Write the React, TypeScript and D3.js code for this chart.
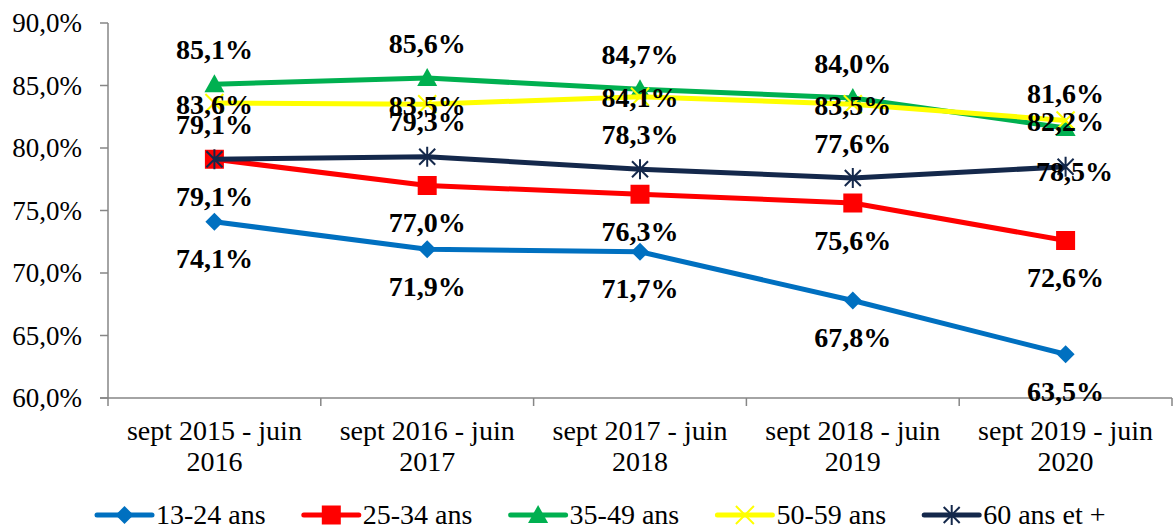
import React from "react";
import * as d3 from "d3";

const categories = [
  ["sept 2015 - juin", "2016"],
  ["sept 2016 - juin", "2017"],
  ["sept 2017 - juin", "2018"],
  ["sept 2018 - juin", "2019"],
  ["sept 2019 - juin", "2020"],
];
const seriesNames = ["13-24 ans", "25-34 ans", "35-49 ans", "50-59 ans", "60 ans et +"];
const v1324 = [74.1, 71.9, 71.7, 67.8, 63.5];
const v2534 = [79.1, 77.0, 76.3, 75.6, 72.6];
const v3549 = [85.1, 85.6, 84.7, 84.0, 81.6];
const v5059 = [83.6, 83.5, 84.1, 83.5, 82.2];
const v60 = [79.1, 79.3, 78.3, 77.6, 78.5];
const yTicks = [60, 65, 70, 75, 80, 85, 90];

const colors = ["#0070C0", "#FF0000", "#00B050", "#FFFF00", "#14284B"];
const markers = ["diamond", "square", "triangle", "x", "star"];
const labelPos = ["below", "below", "above", "center", "above"];

const W = 1173, H = 529;
const left = 108, right = 1172, top = 23, bottom = 398;
const serif = "'Liberation Serif', 'Times New Roman', serif";

function fmt(v: number) {
  return v.toFixed(1).replace(".", ",") + "%";
}

function Marker({ type, x, y, color }: { type: string; x: number; y: number; color: string }) {
  if (type === "diamond") {
    const s = 9;
    return <path d={`M${x},${y - s}L${x + s},${y}L${x},${y + s}L${x - s},${y}Z`} fill={color} />;
  }
  if (type === "square") {
    const s = 9.5;
    return <rect x={x - s} y={y - s} width={2 * s} height={2 * s} fill={color} />;
  }
  if (type === "triangle") {
    const s = 10;
    return <path d={`M${x},${y - s}L${x + s},${y + 8}L${x - s},${y + 8}Z`} fill={color} />;
  }
  if (type === "x") {
    const s = 9;
    return (
      <path d={`M${x - s},${y - s}L${x + s},${y + s}M${x - s},${y + s}L${x + s},${y - s}`} stroke={color} strokeWidth={2} />
    );
  }
  const s = 10;
  return (
    <path
      d={`M${x - s * 0.8},${y - s * 0.8}L${x + s * 0.8},${y + s * 0.8}M${x - s * 0.8},${y + s * 0.8}L${x + s * 0.8},${y - s * 0.8}M${x},${y - s}L${x},${y + s}`}
      stroke={color}
      strokeWidth={2}
    />
  );
}

export default function App() {
  const series = [v1324, v2534, v3549, v5059, v60];
  const x = d3.scaleBand<number>().domain(d3.range(categories.length)).range([left, right]);
  const y = d3.scaleLinear().domain([60, 90]).range([bottom, top]);
  const cx = (i: number) => (x(i) as number) + x.bandwidth() / 2;
  const line = d3
    .line<number>()
    .x((_, i) => cx(i))
    .y((d) => y(d));

  const legendX = d3.scaleLinear().domain([0, 1]).range([97, 97 + 206.8]);

  return (
    <svg width={W} height={H} style={{ position: "absolute", left: 0, top: 0, background: "#fff" }}>
      {/* axes */}
      <line x1={left} x2={left} y1={top} y2={bottom} stroke="#868686" strokeWidth={1.5} />
      <line x1={left - 8} x2={right} y1={bottom} y2={bottom} stroke="#868686" strokeWidth={1.5} />
      {yTicks.map((t) => (
        <g key={t}>
          <line x1={left - 8} x2={left} y1={y(t)} y2={y(t)} stroke="#868686" strokeWidth={1.5} />
          <text x={82} y={y(t) + 9} textAnchor="end" fontFamily={serif} fontSize={27} fill="#000">
            {t.toFixed(1).replace(".", ",") + "%"}
          </text>
        </g>
      ))}
      {d3.range(categories.length + 1).map((i) => {
        const xx = i < categories.length ? (x(i) as number) : right;
        return <line key={i} x1={xx} x2={xx} y1={bottom} y2={bottom + 8} stroke="#868686" strokeWidth={1.5} />;
      })}
      {categories.map((c, i) => (
        <text key={i} textAnchor="middle" fontFamily={serif} fontSize={28} fill="#000">
          <tspan x={cx(i)} y={440}>{c[0]}</tspan>
          <tspan x={cx(i)} y={471}>{c[1]}</tspan>
        </text>
      ))}
      {/* series */}
      {series.map((vals, si) => (
        <g key={si}>
          <path d={line(vals) || ""} fill="none" stroke={colors[si]} strokeWidth={5} strokeLinejoin="round" />
          {vals.map((v, i) => (
            <Marker key={i} type={markers[si]} x={cx(i)} y={y(v)} color={colors[si]} />
          ))}
        </g>
      ))}
      {/* labels */}
      {series.map((vals, si) =>
        vals.map((v, i) => {
          let dx = 0;
          let dy = labelPos[si] === "below" ? 37 : labelPos[si] === "above" ? -35 : 1;
          if (si === 4 && i === vals.length - 1) {
            dx = 9;
            dy = 5;
          }
          return (
            <text
              key={`${si}-${i}`}
              x={cx(i) + dx}
              y={y(v) + dy + 9.5}
              textAnchor="middle"
              fontFamily={serif}
              fontWeight="bold"
              fontSize={28}
              fill="#000"
            >
              {fmt(v)}
            </text>
          );
        })
      )}
      {/* legend */}
      {seriesNames.map((n, si) => {
        const lx = legendX(si);
        const ly = 515;
        return (
          <g key={n}>
            <line x1={lx} x2={lx + 55} y1={ly} y2={ly} stroke={colors[si]} strokeWidth={5} strokeLinecap="round" />
            <Marker type={markers[si]} x={lx + 27.5} y={ly} color={colors[si]} />
            <text x={lx + 59} y={ly + 9} fontFamily={serif} fontSize={28} fill="#000">
              {n}
            </text>
          </g>
        );
      })}
    </svg>
  );
}
